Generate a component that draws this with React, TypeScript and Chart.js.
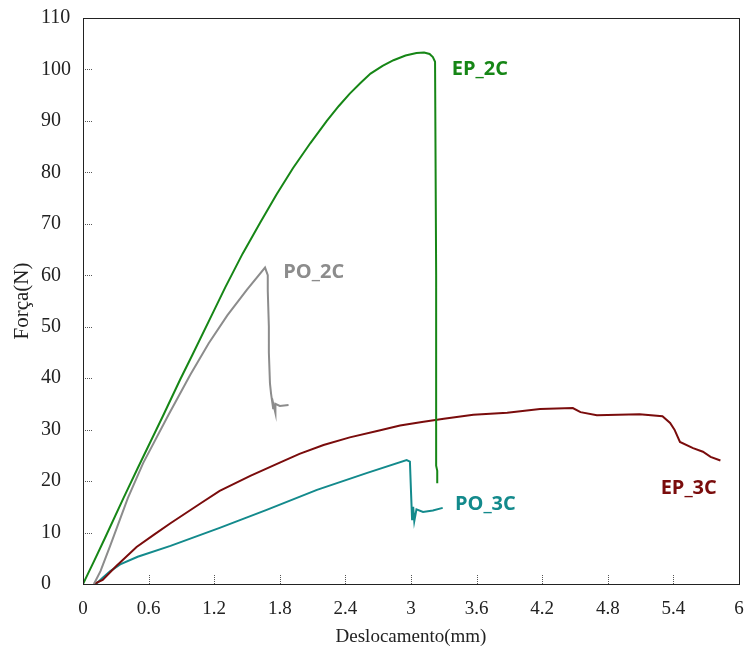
import { useEffect, useRef } from 'react';
import { Chart, registerables } from 'chart.js';

Chart.register(...registerables);

// ---- data ----
const ep2cX = [0, 0.1, 0.2, 0.37, 0.5, 0.73, 0.89, 1.0, 1.19, 1.3, 1.46, 1.62, 1.77, 1.92, 2.08, 2.23, 2.34, 2.44, 2.54, 2.63, 2.74, 2.84, 2.95, 3.05, 3.12, 3.17, 3.2, 3.22, 3.23, 3.23, 3.24, 3.24];
const ep2cY = [0, 4.4, 8.9, 16.7, 22.5, 32.6, 39.8, 44.5, 52.8, 57.6, 64.2, 70.2, 75.7, 80.8, 85.7, 90.0, 92.9, 95.3, 97.4, 99.2, 100.7, 101.8, 102.7, 103.2, 103.3, 103.0, 102.4, 101.5, 60, 23, 22, 19.6];

const po2cX = [0.1, 0.16, 0.25, 0.41, 0.55, 0.78, 0.98, 1.15, 1.32, 1.5, 1.665, 1.69, 1.69, 1.7, 1.7, 1.71, 1.72, 1.74, 1.73, 1.76, 1.76, 1.8, 1.88];
const po2cY = [0, 2.5, 7.5, 16.7, 23.5, 32.8, 40.6, 46.8, 52.2, 57.2, 61.5, 60, 57, 50, 45, 39, 37, 34, 36, 33.2, 35, 34.6, 34.8];

const ep3cX = [0.1, 0.18, 0.3, 0.49, 0.65, 0.8, 1.07, 1.25, 1.53, 1.8, 1.98, 2.2, 2.44, 2.7, 2.9, 3.1, 3.3, 3.57, 3.88, 4.18, 4.48, 4.55, 4.7, 5.09, 5.3, 5.37, 5.41, 5.46, 5.58, 5.67, 5.74, 5.83];
const ep3cY = [0, 0.8, 3.4, 7.2, 9.6, 11.8, 15.6, 18.1, 21.0, 23.6, 25.3, 27.0, 28.5, 29.8, 30.8, 31.5, 32.1, 32.9, 33.3, 34.0, 34.2, 33.4, 32.8, 33.0, 32.6, 31.3, 30, 27.6, 26.4, 25.7, 24.7, 24];

const po3cX = [0.12, 0.18, 0.25, 0.34, 0.5, 0.8, 1.25, 1.68, 2.14, 2.6, 2.96, 2.99, 3.0, 3.01, 3.02, 3.03, 3.05, 3.11, 3.2, 3.29];
const po3cY = [0, 1.2, 2.5, 3.8, 5.3, 7.4, 10.9, 14.4, 18.3, 21.6, 24.1, 23.8, 18, 12.4, 15, 12.2, 14.5, 14, 14.3, 14.8];

const seriesNames = ['EP_2C', 'PO_2C', 'EP_3C', 'PO_3C'];
const seriesColors = ['#168616', '#8c8c8c', '#7a0c0c', '#138a8c'];
const labelX = [3.63, 2.11, 5.54, 3.68];
const labelY = [100.0, 60.6, 18.6, 15.5];

const xTicks = [0, 0.6, 1.2, 1.8, 2.4, 3, 3.6, 4.2, 4.8, 5.4, 6];
const yTicks = [0, 10, 20, 30, 40, 50, 60, 70, 80, 90, 100, 110];

const xTitle = 'Deslocamento(mm)';
const yTitle = 'Força(N)';

const zip = (xs: number[], ys: number[]) => xs.map((x, i) => ({ x, y: ys[i] }));

const frameAndTicks = {
  id: 'frameAndTicks',
  afterDatasetsDraw(chart: any) {
    const { ctx, chartArea, scales } = chart;
    ctx.save();
    // inward dotted tick marks
    ctx.strokeStyle = '#555';
    ctx.lineWidth = 1;
    ctx.setLineDash([1, 1]);
    for (const v of yTicks) {
      const py = Math.round(scales.y.getPixelForValue(v)) + 0.5;
      ctx.beginPath();
      ctx.moveTo(chartArea.left, py);
      ctx.lineTo(chartArea.left + 9, py);
      ctx.stroke();
    }
    for (const v of xTicks) {
      const px = Math.round(scales.x.getPixelForValue(v)) + 0.5;
      ctx.beginPath();
      ctx.moveTo(px, chartArea.bottom);
      ctx.lineTo(px, chartArea.bottom - 9);
      ctx.stroke();
    }
    ctx.setLineDash([]);
    // frame
    ctx.strokeStyle = '#222';
    ctx.lineWidth = 1;
    ctx.strokeRect(
      Math.round(chartArea.left) + 0.5,
      Math.round(chartArea.top) + 0.5,
      Math.round(chartArea.right - chartArea.left),
      Math.round(chartArea.bottom - chartArea.top)
    );
    // series labels
    ctx.font = 'bold 20px "Open Sans"';
    ctx.textAlign = 'center';
    ctx.textBaseline = 'middle';
    seriesNames.forEach((name, i) => {
      ctx.fillStyle = seriesColors[i];
      ctx.fillText(name, scales.x.getPixelForValue(labelX[i]), scales.y.getPixelForValue(labelY[i]));
    });
    // y axis title (rotated)
    ctx.translate(22, (chartArea.top + chartArea.bottom) / 2);
    ctx.rotate(-Math.PI / 2);
    ctx.fillStyle = '#222';
    ctx.font = '21px "Liberation Serif"';
    ctx.fillText(yTitle, 0, 0);
    ctx.restore();
  },
};

export default function App() {
  const ref = useRef<HTMLCanvasElement | null>(null);
  useEffect(() => {
    if (!ref.current) return;
    const datasets = [
      zip(ep2cX, ep2cY),
      zip(po2cX, po2cY),
      zip(ep3cX, ep3cY),
      zip(po3cX, po3cY),
    ].map((data, i) => ({
      label: seriesNames[i],
      data,
      borderColor: seriesColors[i],
      backgroundColor: seriesColors[i],
      borderWidth: 2,
      pointRadius: 0,
      showLine: true,
      tension: 0,
    }));
    const chart = new Chart(ref.current, {
      type: 'scatter',
      data: { datasets },
      plugins: [frameAndTicks],
      options: {
        animation: false,
        responsive: false,
        layout: { padding: { top: 18, right: 8, left: 41, bottom: 0 } },
        plugins: { legend: { display: false }, tooltip: { enabled: false } },
        scales: {
          x: {
            type: 'linear',
            min: 0,
            max: 6,
            afterBuildTicks: (s: any) => { s.ticks = xTicks.map((value) => ({ value })); },
            afterFit: (s: any) => { s.height = 70; s.paddingRight = 0; s.paddingLeft = 0; },
            grid: { display: false },
            border: { display: false },
            ticks: {
              autoSkip: false,
              maxRotation: 0,
              padding: 6,
              color: '#222',
              font: { family: '"Liberation Serif"', size: 19 },
              callback: (v: any) => String(v),
            },
            title: {
              display: true,
              text: xTitle,
              color: '#222',
              font: { family: '"Liberation Serif"', size: 19 },
              padding: { top: 0, bottom: 6 },
            },
          },
          y: {
            type: 'linear',
            min: 0,
            max: 110,
            afterBuildTicks: (s: any) => { s.ticks = yTicks.map((value) => ({ value })); },
            afterFit: (s: any) => { s.width = 42; s.paddingTop = 0; s.paddingBottom = 0; },
            grid: { display: false },
            border: { display: false },
            ticks: {
              autoSkip: false,
              crossAlign: 'far',
              padding: 8,
              color: '#222',
              font: { family: '"Liberation Serif"', size: 20 },
              callback: (v: any) => String(v),
            },
            title: { display: false },
          },
        },
      },
    });
    return () => chart.destroy();
  }, []);
  return (
    <div style={{ position: 'fixed', left: 0, top: 0, width: 747, height: 654, background: '#fff' }}>
      <canvas ref={ref} width={747} height={654} style={{ display: 'block' }} />
    </div>
  );
}
